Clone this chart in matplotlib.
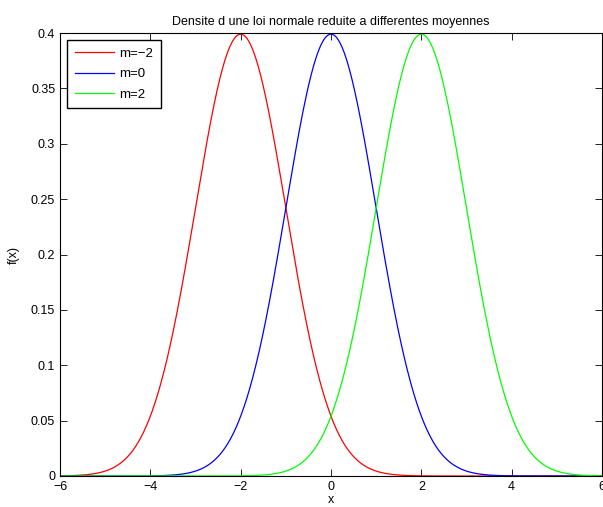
import numpy as np
import matplotlib.pyplot as plt

plt.rcParams['font.family'] = ['Liberation Sans', 'DejaVu Sans']

# Means and colours of the three curves (sigma = 1, standard normal shape)
means = [-2, 0, 2]
labels = ['m=\u22122', 'm=0', 'm=2']
colors = ['#ff0000', '#0000ff', '#00ff00']
sigma = 1.0
x_min, x_max = -6, 6

x = np.linspace(x_min, x_max, 1201)

fig = plt.figure(figsize=(6.03, 5.07), dpi=100)
ax = fig.add_axes([60 / 603, 31 / 507, 542 / 603, 443 / 507])

for m, lab, c in zip(means, labels, colors):
    y = np.exp(-0.5 * ((x - m) / sigma) ** 2) / (sigma * np.sqrt(2 * np.pi))
    ax.plot(x, y, color=c, linewidth=0.9, label=lab)

ax.set_xlim(x_min, x_max)
ax.set_ylim(0, 0.4)
ax.set_xticks([-6, -4, -2, 0, 2, 4, 6])
ax.set_xticklabels(['\u22126', '\u22124', '\u22122', '0', '2', '4', '6'])
ax.set_yticks([0, 0.05, 0.1, 0.15, 0.2, 0.25, 0.3, 0.35, 0.4])
ax.set_yticklabels(['0', '0.05', '0.1', '0.15', '0.2', '0.25', '0.3', '0.35', '0.4'])
ax.tick_params(direction='in', top=True, right=True, labelsize=9, length=5, width=0.6)
for s in ax.spines.values():
    s.set_linewidth(0.8)

ax.set_title('Densite d une loi normale reduite a differentes moyennes', fontsize=9, pad=6)
ax.set_xlabel('x', fontsize=9, labelpad=1)
ax.set_ylabel('f(x)', fontsize=9, labelpad=8)

leg = ax.legend(loc='upper left', fontsize=9.5, fancybox=False, edgecolor='black',
                framealpha=1, borderaxespad=0.55, borderpad=0.55, handlelength=3.0,
                handletextpad=0.4, labelspacing=0.62)
leg.get_frame().set_linewidth(1.0)

fig.savefig('out.png', dpi=100)
